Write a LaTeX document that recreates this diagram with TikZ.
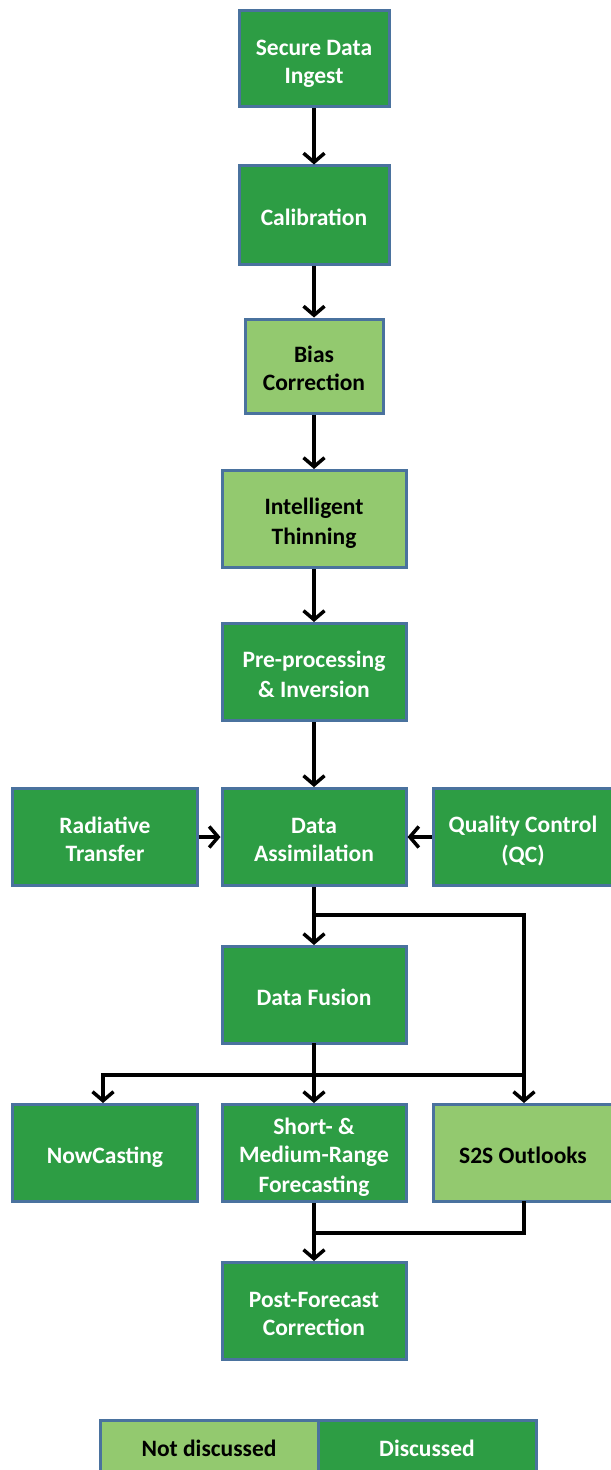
\documentclass[tikz,border=0pt]{standalone}
\usepackage{fontspec}
\setmainfont{Carlito}
\usetikzlibrary{arrows.meta}
\definecolor{darkgr}{RGB}{45,157,68}
\definecolor{lightgr}{RGB}{147,201,111}
\definecolor{edgeblue}{RGB}{74,114,158}
% fixed line strut so every box centres its lines the same way
\newcommand{\ls}{\rule[-3.5bp]{0pt}{28bp}}
\newcommand{\boxtext}[1]{\ls#1\ls}
\tikzset{
  box/.style={draw=edgeblue, line width=3bp, align=center, inner sep=0pt,
    font=\fontsize{23.5bp}{28bp}\selectfont\bfseries},
  done/.style={box, fill=darkgr, text=white},
  todo/.style={box, fill=lightgr, text=black},
  wide/.style={minimum width=184bp, minimum height=97bp},
  flow/.style={draw=black, line width=3.5bp, -{Straight Barb[length=9bp, width=21bp, line width=3.5bp]}},
  wire/.style={draw=black, line width=3.5bp, line cap=rect}
}
\begin{document}
\begin{tikzpicture}[x=1bp, y=-1bp]
\useasboundingbox (0,0) rectangle (611,1470);
\fill[white] (0,0) rectangle (611,1470);

% main chain
\node[done, minimum width=150bp, minimum height=96bp] (ingest) at (314,59) {\boxtext{Secure Data\\Ingest}};
\node[done, minimum width=150bp, minimum height=98bp] (calib) at (314,215) {\boxtext{Calibration}};
\node[todo, minimum width=138bp, minimum height=94bp] (bias) at (314,366) {\boxtext{Bias\\Correction}};
\node[todo, wide] (thin) at (314,519) {\boxtext{Intelligent\\Thinning}};
\node[done, wide] (pre) at (314,672) {\boxtext{Pre-processing\\\& Inversion}};

% assimilation row
\node[done, wide] (rad) at (105,837) {\boxtext{Radiative\\Transfer}};
\node[done, wide] (da) at (314,837) {\boxtext{Data\\Assimilation}};
\node[done, minimum width=180bp, minimum height=97bp] (qc) at (523,837) {\boxtext{Quality Control\\(QC)}};

\node[done, wide] (fus) at (314,995) {\boxtext{Data Fusion}};

% forecasting row
\node[done, wide] (now) at (105,1153) {\boxtext{NowCasting}};
\node[done, wide] (short) at (314,1153) {\boxtext{Short- \&\\Medium-Range\\Forecasting}};
\node[todo, minimum width=180bp, minimum height=97bp] (s2s) at (523,1153) {\boxtext{S2S Outlooks}};

\node[done, wide] (post) at (314,1311) {\boxtext{Post-Forecast\\Correction}};

% legend
\node[todo, minimum width=218bp, minimum height=52bp] (legA) at (209,1446) {\boxtext{Not discussed}};
\node[done, minimum width=218bp, minimum height=52bp] (legB) at (427,1446) {\boxtext{Discussed}};

% vertical chain
\draw[flow] (ingest) -- (calib);
\draw[flow] (calib) -- (bias);
\draw[flow] (bias) -- (thin);
\draw[flow] (thin) -- (pre);
\draw[flow] (pre) -- (da);
\draw[flow] (rad) -- (da);
\draw[flow] (qc) -- (da);
\draw[flow] (da) -- (fus);

% branch points
\coordinate (daSplit) at (314,915);
\coordinate (daRight) at (524,915);
\coordinate (fusSplit) at (314,1075);
\coordinate (fusLeft) at (103,1075);
\coordinate (fusRight) at (524,1075);
\coordinate (s2sDown) at (524,1233);
\coordinate (postJoin) at (314,1233);

\draw[wire] (daSplit) -- (daRight);
\draw[flow] (daRight) -- (daRight |- s2s.north);
\draw[wire] (fus.south) -- (fusSplit);
\draw[wire] (fusLeft) -- (fusRight);
\draw[flow] (fusSplit) -- (short);
\draw[flow] (fusLeft) -- (fusLeft |- now.north);
\draw[wire] (s2s.south -| s2sDown) -- (s2sDown) -- (postJoin);
\draw[flow] (short) -- (post);
\end{tikzpicture}
\end{document}
